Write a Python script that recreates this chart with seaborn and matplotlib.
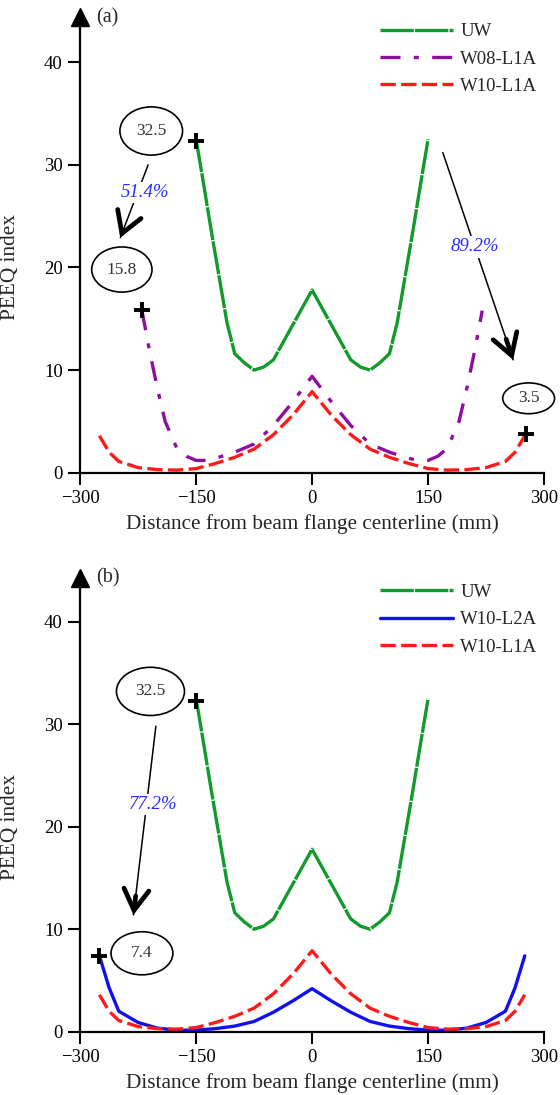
import numpy as np
import pandas as pd
import matplotlib
matplotlib.use("Agg")
import matplotlib.pyplot as plt
from matplotlib.patches import Ellipse
import seaborn as sns

# ---- data ----
x_uw = [-150, -140, -130, -120, -110, -100, -87.5, -75, -62.5, -50, -25, 0,
        25, 50, 62.5, 75, 87.5, 100, 110, 120, 130, 140, 150]
uw = [32.5, 28.0, 23.4, 19.0, 14.6, 11.6, 10.7, 10.0, 10.3, 11.0, 14.4, 17.8,
      14.4, 11.0, 10.3, 10.0, 10.7, 11.6, 14.6, 19.0, 23.4, 28.0, 32.5]

x_w08 = [-220, -210, -200, -190, -175, -162.5, -150, -137.5, -125, -100, -75, -50, -25, 0,
         25, 50, 75, 100, 125, 137.5, 150, 162.5, 175, 190, 200, 210, 220]
w08_l1a = [15.8, 11.8, 8.2, 5.0, 2.4, 1.6, 1.2, 1.2, 1.4, 2.0, 2.8, 4.6, 6.9, 9.4,
           6.9, 4.6, 2.8, 2.0, 1.4, 1.2, 1.2, 1.6, 2.4, 5.0, 8.2, 11.8, 15.8]

x_w10 = [-275, -262.5, -250, -225, -200, -175, -150, -125, -100, -75, -50, -25, 0,
         25, 50, 75, 100, 125, 150, 175, 200, 225, 250, 262.5, 275]
w10_l1a = [3.6, 2.0, 1.1, 0.5, 0.3, 0.25, 0.4, 0.9, 1.5, 2.3, 3.7, 5.6, 7.9,
           5.6, 3.7, 2.3, 1.5, 0.9, 0.4, 0.25, 0.3, 0.5, 1.1, 2.0, 3.6]
w10_l2a = [7.4, 4.3, 2.0, 0.9, 0.35, 0.15, 0.15, 0.3, 0.55, 1.0, 1.9, 3.0, 4.2,
           3.0, 1.9, 1.0, 0.55, 0.3, 0.15, 0.15, 0.35, 0.9, 2.0, 4.3, 7.4]

x_ticks = [-300, -150, 0, 150, 300]
y_ticks = [0, 10, 20, 30, 40]


def long_form(pairs):
    frames = []
    for name, xs, ys in pairs:
        frames.append(pd.DataFrame({"x": xs, "y": ys, "series": name}))
    return pd.concat(frames, ignore_index=True)


df_a = long_form([("UW", x_uw, uw), ("W08-L1A", x_w08, w08_l1a), ("W10-L1A", x_w10, w10_l1a)])
df_b = long_form([("UW", x_uw, uw), ("W10-L2A", x_w10, w10_l2a), ("W10-L1A", x_w10, w10_l1a)])

colors = {"UW": "#139a2c", "W08-L1A": "#8e0f9f", "W10-L1A": "#ff1a1a", "W10-L2A": "#1010f0"}
dashes = {"UW": (10, 0.35), "W08-L1A": (6, 4, 1.5, 4), "W10-L1A": (4.6, 1.6), "W10-L2A": ""}

sns.set_theme(style="ticks")
plt.rcParams["font.family"] = ["Liberation Serif", "DejaVu Serif"]

fig = plt.figure(figsize=(5.6, 10.95), dpi=100)
ax_a = fig.add_axes([0.143, 0.5683, 0.8286, 0.4161])
ax_b = fig.add_axes([0.143, 0.0578, 0.8286, 0.4147])


def setup(ax, df, order, tag, ytop):
    sns.lineplot(data=df, x="x", y="y", hue="series", style="series", hue_order=order,
                 style_order=order, palette=colors, dashes=dashes, lw=2.4,
                 errorbar=None, sort=False, legend=False, ax=ax)
    handles = ax.get_lines()[:3]
    ax.legend(handles, order, loc="upper right", bbox_to_anchor=(1.022, 1.024),
              frameon=False, fontsize=13.5, handlelength=3.9, handletextpad=0.4,
              labelspacing=0.55)
    ax.set_xlim(-300, 300)
    ax.set_ylim(0, ytop)
    ax.set_xticks(x_ticks)
    ax.set_yticks(y_ticks)
    sns.despine(ax=ax)
    for s in ("left", "bottom"):
        ax.spines[s].set_linewidth(1.6)
        ax.spines[s].set_color("black")
    ax.tick_params(direction="out", length=8.5, width=1.5, labelsize=13.5,
                   colors="black", pad=4)
    ax.set_xlabel("Distance from beam flange centerline (mm)", fontsize=15.3, labelpad=5)
    ax.set_ylabel("PEEQ index", fontsize=15.3)
    ax.yaxis.set_label_coords(-0.129, 20 / ytop)
    ax.plot([0], [1.0], marker="^", markersize=13, color="black",
            transform=ax.transAxes, clip_on=False)
    ax.text(0.035, 1.02, tag, transform=ax.transAxes, fontsize=14.5, va="top", ha="left")


def bubble(ax, cx, cy, w, h, label):
    ax.add_patch(Ellipse((cx, cy), w, h, fc="white", ec="black", lw=1.2,
                         clip_on=False, zorder=4))
    ax.text(cx, cy, label, ha="center", va="center", fontsize=12.5, color="#333333", zorder=5)


def arrow(ax, start, end, label, lpos):
    # thin shaft
    ax.annotate("", xy=end, xytext=start, zorder=3,
                arrowprops=dict(arrowstyle="-", lw=1.1, color="black",
                                shrinkA=0, shrinkB=0))
    # bold chevron head
    sx, sy = start
    ex, ey = end
    t = 0.1
    ax.annotate("", xy=end, xytext=(ex + (sx - ex) * t, ey + (sy - ey) * t), zorder=3,
                arrowprops=dict(arrowstyle="->,head_length=0.75,head_width=0.45",
                                mutation_scale=20, lw=3.4, color="black",
                                shrinkA=0, shrinkB=0, joinstyle="miter"))
    ax.text(lpos[0], lpos[1], label, ha="center", va="center", fontsize=13.5,
            style="italic", color="#2a2aff", zorder=4,
            bbox=dict(fc="white", ec="none", pad=1.5))


def cross(ax, x, y):
    ax.plot([x], [y], marker="+", markersize=12, mew=2.8, color="black",
            zorder=6, clip_on=False)


setup(ax_a, df_a, ["UW", "W08-L1A", "W10-L1A"], "(a)", 44.4)
bubble(ax_a, -208, 33.3, 81, 4.7, "32.5")
bubble(ax_a, -246, 19.8, 78, 4.4, "15.8")
bubble(ax_a, 280, 7.25, 67, 3.0, "3.5")
arrow(ax_a, (-212, 30.0), (-248, 22.9), "51.4%", (-216, 27.3))
arrow(ax_a, (169, 31.2), (260, 11.0), "89.2%", (210, 22.0))
cross(ax_a, -150, 32.3)
cross(ax_a, -220, 15.9)
cross(ax_a, 276, 3.8)

setup(ax_b, df_b, ["UW", "W10-L2A", "W10-L1A"], "(b)", 44.3)
bubble(ax_b, -209, 33.2, 88, 4.7, "32.5")
bubble(ax_b, -220, 7.65, 80, 4.2, "7.4")
arrow(ax_b, (-202, 29.8), (-231, 11.4), "77.2%", (-206, 22.2))
cross(ax_b, -150, 32.3)
cross(ax_b, -276, 7.4)

fig.savefig("out.png", dpi=100)
